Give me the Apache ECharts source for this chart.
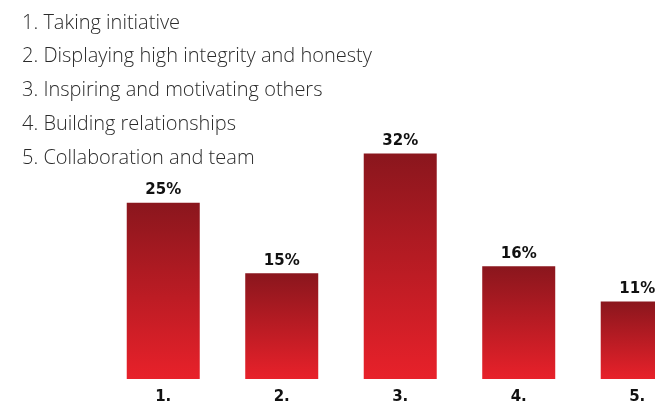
<!DOCTYPE html>
<html>
<head>
<meta charset="utf-8">
<script src="https://cdn.jsdelivr.net/npm/echarts@6/dist/echarts.min.js"></script>
<style>
  html, body { margin: 0; padding: 0; background: #fff; overflow: hidden; }
  #chart { width: 655px; height: 405px; }
</style>
</head>
<body>
<div id="chart"></div>
<script>
// Leadership qualities, share of respondents (%)
const categories = ['1.', '2.', '3.', '4.', '5.'];
const shares = [25, 15, 32, 16, 11];
const descriptions = [
  '1. Taking initiative',
  '2. Displaying high integrity and honesty',
  '3. Inspiring and motivating others',
  '4. Building relationships',
  '5. Collaboration and team'
];

const chart = echarts.init(document.getElementById('chart'));

const barGradient = new echarts.graphic.LinearGradient(0, 0, 0, 1, [
  { offset: 0, color: '#8a161d' },
  { offset: 1, color: '#e8212a' }
]);

// Categories sit at positions 1..5 on a numeric axis so the last bar
// can run off the right edge of the canvas.
const positions = categories.map((_, i) => i + 1);

chart.setOption({
  animation: false,
  title: {
    text: descriptions.join('\n'),
    left: 17,
    top: 1,
    textStyle: {
      fontFamily: 'Open Sans',
      fontWeight: 300,
      fontSize: 20,
      lineHeight: 33.75,
      color: '#2b2b2b'
    }
  },
  grid: { left: 104, right: 0, top: 97, bottom: 24 },
  xAxis: {
    type: 'value',
    min: 0.5,
    max: 5.15,
    splitLine: { show: false },
    axisLine: { show: false },
    axisTick: { show: false },
    axisLabel: {
      customValues: positions,
      formatter: (v) => categories[Math.round(v) - 1] || '',
      margin: 11,
      fontFamily: 'DejaVu Sans',
      fontWeight: 'bold',
      fontSize: 15,
      color: '#111'
    }
  },
  yAxis: {
    type: 'value',
    min: 0,
    max: 40,
    show: false,
    splitLine: { show: false }
  },
  series: [{
    type: 'bar',
    data: shares.map((v, i) => [positions[i], v]),
    barWidth: 73,
    itemStyle: { color: barGradient },
    label: {
      show: true,
      position: 'top',
      distance: 5,
      formatter: (p) => p.value[1] + '%',
      fontFamily: 'DejaVu Sans',
      fontWeight: 'bold',
      fontSize: 15,
      color: '#111'
    }
  }]
});
</script>
</body>
</html>
